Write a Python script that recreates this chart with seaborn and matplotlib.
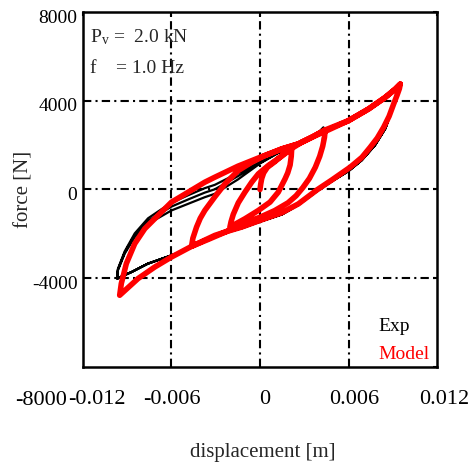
import numpy as np
import pandas as pd
import matplotlib
matplotlib.use("Agg")
import matplotlib.pyplot as plt
import matplotlib.transforms as mtransforms
import seaborn as sns

# ---------------- measured hysteresis data (displacement [m], force [N]) ----------------
# Model
model_init_d = [0.0, 0.00005, 0.00012, 0.00025, 0.0005, 0.001, 0.0016, 0.00215]
model_init_f = [0, 250, 500, 750, 1000, 1250, 1600, 1850]

model_a_desc_d = [0.00215, 0.00212, 0.00204, 0.00188, 0.0017, 0.00124, 0.00068, -0.00011, -0.00102, -0.00204]
model_a_desc_f = [1850, 1500, 1100, 750, 480, -120, -570, -945, -1320, -1695]
model_a_asc_d = [-0.00204, -0.00196, -0.00181, -0.00147, -0.00102, -0.00056, -0.00011, 0.00056, 0.00147, 0.00215]
model_a_asc_f = [-1695, -1450, -1120, -600, -120, 330, 705, 1080, 1500, 1850]

model_b_up_d = [0.00215, 0.0028, 0.00351, 0.00442]
model_b_up_f = [1850, 2120, 2354, 2685]
model_b_desc_d = [0.00442, 0.00437, 0.00425, 0.00405, 0.00375, 0.00335, 0.0029, 0.00245, 0.0019, 0.001, 0.0,
                  -0.00124, -0.00238, -0.0035, -0.00464]
model_b_desc_f = [2685, 2350, 1950, 1500, 1000, 500, 80, -280, -600, -950, -1250, -1560, -1930, -2250, -2565]
model_b_asc_d = [-0.00464, -0.00455, -0.0043, -0.00405, -0.00374, -0.00306, -0.00238, -0.00147, -0.00056,
                 0.00034, 0.00147, 0.0026, 0.00351, 0.00442, 0.006, 0.00736, 0.00849, 0.00917, 0.00951]
model_b_asc_f = [-2565, -2200, -1695, -1300, -945, -330, 250, 855, 1229, 1530, 1832, 2057, 2354, 2685,
                 3105, 3631, 4154, 4530, 4756]

model_big_desc_d = [0.00951, 0.00945, 0.00929, 0.00906, 0.00875, 0.00838, 0.00795, 0.00747, 0.00691, 0.00611,
                    0.00487, 0.0039, 0.0026, 0.00147, 0.0, -0.00124, -0.00238, -0.00306, -0.00464, -0.006,
                    -0.00713, -0.00827, -0.00951]
model_big_desc_f = [4756, 4550, 4250, 3856, 3300, 2804, 2320, 1904, 1450, 1004, 430, 0, -650, -1050, -1395,
                    -1695, -1920, -2070, -2565, -3046, -3496, -4019, -4770]
model_big_asc_d = [-0.00951, -0.0094, -0.00906, -0.00849, -0.00781, -0.00691, -0.006, -0.00487, -0.00374,
                   -0.00306, -0.0015, 0.0, 0.0015, 0.0026, 0.00351, 0.00464, 0.006, 0.00736, 0.00849, 0.00917,
                   0.00951]
model_big_asc_f = [-4770, -4244, -3344, -2444, -1769, -1170, -572, -122, 329, 554, 1050, 1450, 1830, 2057,
                   2354, 2686, 3105, 3631, 4154, 4530, 4756]

# Experiment
exp_init_d = [0.0, 0.00005, 0.00012, 0.00025, 0.0005, 0.001, 0.0016, 0.00215]
exp_init_f = [0, 230, 470, 720, 970, 1220, 1570, 1820]
exp_a_desc_d = [0.00215, 0.00213, 0.00206, 0.0019, 0.00172, 0.00126, 0.0007, -0.0001, -0.001, -0.00206]
exp_a_desc_f = [1820, 1470, 1070, 720, 450, -150, -600, -975, -1350, -1720]
exp_a_asc_d = [-0.00206, -0.00199, -0.00184, -0.0015, -0.00105, -0.00058, -0.00012, 0.00055, 0.00147, 0.00215]
exp_a_asc_f = [-1720, -1470, -1140, -620, -140, 310, 690, 1060, 1480, 1820]

exp_b_up_d = [0.00215, 0.0028, 0.0035, 0.0040, 0.0043]
exp_b_up_f = [1820, 2090, 2330, 2600, 2804]
exp_b_desc_d = [0.0043, 0.00428, 0.0042, 0.00402, 0.00375, 0.00335, 0.0029, 0.00245, 0.0019, 0.001, 0.0,
                -0.00124, -0.00238, -0.0035, -0.00466]
exp_b_desc_f = [2804, 2400, 1950, 1500, 980, 470, 50, -310, -630, -980, -1280, -1590, -1960, -2280, -2600]
exp_b_asc_d = [-0.00466, -0.00458, -0.00436, -0.0041, -0.0038, -0.0031, -0.0024, -0.0015, -0.0006, 0.0003,
               0.0015, 0.0026, 0.0035, 0.0046, 0.006, 0.0074, 0.0085, 0.0093]
exp_b_asc_f = [-2600, -2250, -1750, -1350, -990, -380, 200, 800, 1180, 1480, 1780, 2000, 2300, 2650,
               3050, 3580, 4100, 4550]

exp_big_desc_d = [0.0093, 0.0092, 0.0089, 0.0085, 0.0078, 0.0069, 0.006, 0.0049, 0.0039, 0.0026, 0.0015, 0.0,
                  -0.0012, -0.0024, -0.0031, -0.0046, -0.006, -0.0076, -0.0087, -0.0094, -0.00967]
exp_big_desc_f = [4550, 4200, 3500, 2750, 2000, 1320, 830, 380, -60, -700, -1120, -1450, -1740, -1970, -2120,
                  -2610, -2970, -3345, -3720, -3930, -4019]
# three loading cycles at the largest amplitude
exp_big_asc1_d = [-0.00967, -0.00963, -0.00917, -0.00849, -0.00759, -0.00679, -0.006, -0.00487, -0.00374,
                  -0.00306, -0.0015, 0.0, 0.0015, 0.0026, 0.0035, 0.0046, 0.006, 0.0074, 0.0085, 0.0093]
exp_big_asc1_f = [-4019, -3645, -2894, -2147, -1544, -1247, -945, -644, -347, -194, 450, 1170, 1750, 2000,
                  2300, 2650, 3050, 3580, 4100, 4550]
exp_big_asc2_d = [-0.00967, -0.00963, -0.00917, -0.00849, -0.00759, -0.00679, -0.006, -0.00487, -0.00374,
                  -0.00306, -0.0015, 0.0, 0.0015, 0.0026, 0.0035, 0.0046, 0.006, 0.0074, 0.0085, 0.0093]
exp_big_asc2_f = [-4019, -3610, -2840, -2060, -1420, -1090, -770, -450, -140, 10, 600, 1200, 1750, 2000,
                  2300, 2650, 3050, 3580, 4100, 4550]
exp_big_asc3_d = [-0.00967, -0.00963, -0.00917, -0.00849, -0.00759, -0.00679, -0.006, -0.00487, -0.00374,
                  -0.00306, -0.0015, 0.0, 0.0015, 0.0026, 0.0035, 0.0046, 0.006, 0.0074, 0.0085, 0.0093]
exp_big_asc3_f = [-4019, -3580, -2790, -1980, -1300, -940, -600, -260, 60, 210, 730, 1240, 1750, 2000,
                  2300, 2650, 3050, 3580, 4100, 4550]

x_ticks = [-0.012, -0.006, 0, 0.006, 0.012]
x_tick_labels = ["-0.012", "-0.006", "0", "0.006", "0.012"]
y_ticks = [-8000, -4000, 0, 4000, 8000]
y_tick_labels = ["-8000", "-4000", "0", "4000", "8000"]


def path(pairs):
    d = np.concatenate([np.asarray(p[0], float) for p in pairs])
    f = np.concatenate([np.asarray(p[1], float) for p in pairs])
    return pd.DataFrame({"displacement": d, "force": f})


model_df = path([
    (model_init_d, model_init_f), (model_a_desc_d, model_a_desc_f), (model_a_asc_d, model_a_asc_f),
    (model_b_up_d, model_b_up_f), (model_b_desc_d, model_b_desc_f), (model_b_asc_d, model_b_asc_f),
    (model_big_desc_d, model_big_desc_f), (model_big_asc_d, model_big_asc_f),
])
exp_df = path([
    (exp_init_d, exp_init_f), (exp_a_desc_d, exp_a_desc_f), (exp_a_asc_d, exp_a_asc_f),
    (exp_b_up_d, exp_b_up_f), (exp_b_desc_d, exp_b_desc_f), (exp_b_asc_d, exp_b_asc_f),
    (exp_big_desc_d, exp_big_desc_f), (exp_big_asc1_d, exp_big_asc1_f),
    (exp_big_desc_d, exp_big_desc_f), (exp_big_asc2_d, exp_big_asc2_f),
    (exp_big_desc_d, exp_big_desc_f), (exp_big_asc3_d, exp_big_asc3_f),
])

# ---------------- styling ----------------
sns.set_style("white")
plt.rcParams["font.family"] = ["Liberation Serif", "DejaVu Serif"]
plt.rcParams["mathtext.fontset"] = "custom"
plt.rcParams["mathtext.rm"] = "Liberation Serif"
plt.rcParams["mathtext.it"] = "Liberation Serif:italic"

fig = plt.figure(figsize=(4.74, 4.65), dpi=100)
ax = fig.add_axes([0.175, 0.211, 0.747, 0.763])

# dash-dot grid
for gx in [-0.006, 0, 0.006]:
    ax.axvline(gx, color="black", lw=1.5, ls=(0, (4, 2, 1, 2)), zorder=1)
for gy in [-4000, 0, 4000]:
    ax.axhline(gy, color="black", lw=1.5, ls=(0, (4, 2, 1, 2)), zorder=1)

sns.lineplot(data=exp_df, x="displacement", y="force", sort=False, estimator=None,
             color="black", lw=1.6, ax=ax, zorder=3,
             solid_joinstyle="round", solid_capstyle="round")
sns.lineplot(data=model_df, x="displacement", y="force", sort=False, estimator=None,
             color="#ff0000", lw=4.0, ax=ax, zorder=4,
             solid_joinstyle="round", solid_capstyle="round")

ax.set_xlim(-0.012, 0.012)
ax.set_ylim(-8000, 8000)
ax.set_xticks(x_ticks)
ax.set_xticklabels(x_tick_labels)
ax.set_yticks(y_ticks)
ax.set_yticklabels(y_tick_labels)
ax.tick_params(direction="in", length=3, width=1.5, top=True, right=True,
               labelsize=14, colors="black")
ax.tick_params(axis="x", pad=17, labelsize=16)
ax.tick_params(axis="y", pad=4)

# fine placement of tick labels (pixel offsets)
def shift(label, dx, dy):
    label.set_transform(label.get_transform() +
                        mtransforms.ScaledTranslation(dx / 100, dy / 100, fig.dpi_scale_trans))

for lab, dx in zip(ax.get_xticklabels(), [14, 0, 5, 6, 7]):
    shift(lab, dx, 0)
ylabs = ax.get_yticklabels()
ylabs[0].set_fontsize(16)
shift(ylabs[0], -10, -31)
for lab in ylabs[1:]:
    shift(lab, 0, -4)

for s in ax.spines.values():
    s.set_linewidth(1.8)
    s.set_color("black")

ax.set_xlabel("displacement [m]", fontsize=15, va="center")
ax.xaxis.set_label_coords(0.508, -0.242)
ax.set_ylabel("force [N]", fontsize=15, va="center")
ax.yaxis.set_label_coords(-0.167, 0.5)

ax.text(0.02, 0.915, r"P$_\mathrm{v}$ =  2.0 kN", transform=ax.transAxes,
        fontsize=14, va="baseline", ha="left")
ax.text(0.02, 0.828, "f    = 1.0 Hz", transform=ax.transAxes,
        fontsize=14, va="baseline", ha="left")
ax.text(0.835, 0.1, "Exp", transform=ax.transAxes, fontsize=14, color="black",
        va="baseline", ha="left")
ax.text(0.835, 0.022, "Model", transform=ax.transAxes, fontsize=14, color="#ff0000",
        va="baseline", ha="left")

fig.savefig("out.png", dpi=100, facecolor="white")
